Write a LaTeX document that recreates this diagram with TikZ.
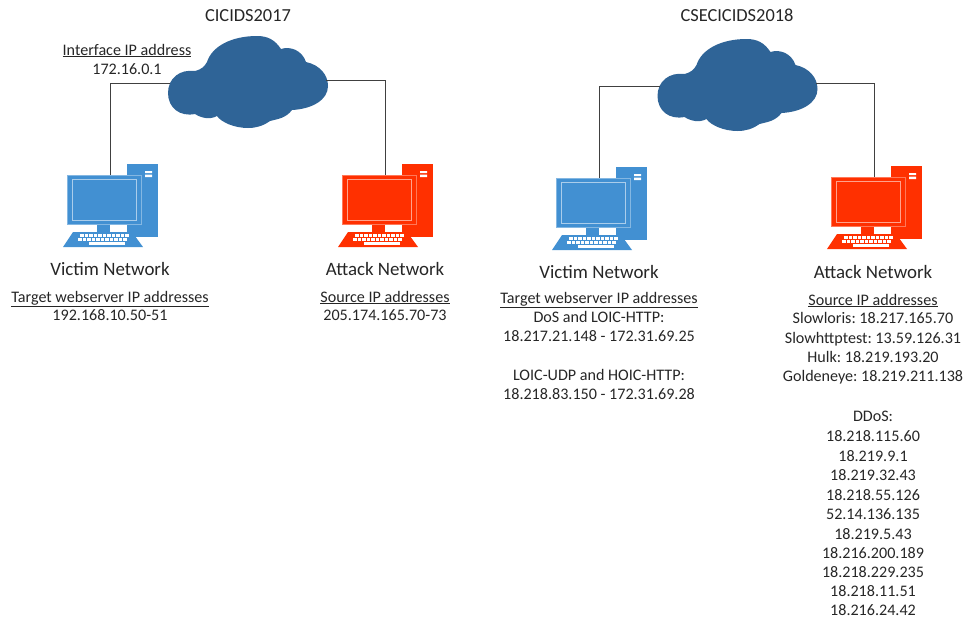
\documentclass[tikz,border=0pt]{standalone}
\usepackage{fontspec}
\setmainfont{Carlito}
\definecolor{victimblue}{HTML}{4290D2}
\definecolor{attackred}{HTML}{FF3000}
\definecolor{cloudblue}{HTML}{2F6497}
\tikzset{
    caption/.style={anchor=base, inner sep=0pt, font=\fontsize{16.1}{18}\selectfont\frenchspacing, text=black!85},
    heading/.style={caption, font=\fontsize{18.9}{20}\selectfont},
    charttitle/.style={caption, font=\fontsize{18.4}{20}\selectfont},
    link/.style={draw=black!75, line width=0.9pt},
    pics/computer/.style={code={
        \fill[#1] (17,-11) rectangle (48,62);
        \fill[white] (35,-4) rectangle (42,-2) (35,-0.5) rectangle (42,2);
        \fill[#1] (-13,49) rectangle (0,58);
        \filldraw[fill=#1, draw=white!35!#1, line width=0.7pt] (-43,0) rectangle (31,49);
        \draw[white!55!#1, line width=0.8pt] (-38,4) rectangle (26,45);
        \fill[#1] (-37,57) -- (22,57) -- (33,72) -- (-47,72) -- cycle;
        % keyboard keys
        \foreach \x in {-30,-25.5,...,17} {
            \fill[white] (\x,59.4) rectangle +(3.6,2.6);
            \fill[white] (\x-2,63) rectangle +(3.6,2.6);
        }
        \fill[white] (-21,67) rectangle (15,69.6);
        \coordinate (-top) at (0,0);
    }},
    pics/cloud/.style={code={
        \fill[cloudblue] (-80,11) .. controls (-80,-4) and (-68,-13) .. (-53,-11)
            .. controls (-46,-13) and (-44,-15) .. (-41,-20)
            .. controls (-36,-36) and (-16,-46) .. (9,-46)
            .. controls (20,-46) and (27,-42) .. (33,-33)
            .. controls (42,-36) and (54,-32) .. (58,-20)
            .. controls (72,-17) and (80,-7) .. (80,4)
            .. controls (80,18) and (64,27) .. (44,28)
            .. controls (38,36) and (30,37) .. (22,39)
            .. controls (15,44) and (8,46) .. (0,46)
            .. controls (-14,46) and (-27,40) .. (-31,34)
            .. controls (-38,38) and (-47,36) .. (-53,32)
            .. controls (-68,35) and (-80,26) .. (-80,11) -- cycle;
        \coordinate (-left) at (-78,1);
        \coordinate (-right) at (78,-2);
    }}
}
\begin{document}
\begin{tikzpicture}[x=1pt, y=-1pt]
    \useasboundingbox (0,0) rectangle (963,619);

    % Clouds and computers
    \pic (cloudA) at (248,82) {cloud};
    \pic (cloudB) at (737.5,85) {cloud};
    \pic (victimA) at (110,175) {computer=victimblue};
    \pic (attackA) at (385,175) {computer=attackred};
    \pic (victimB) at (599,178) {computer=victimblue};
    \pic (attackB) at (874,177) {computer=attackred};

    % Links
    \draw[link] (cloudA-left) -| (victimA-top);
    \draw[link] (cloudA-right) -| (attackA-top);
    \draw[link] (cloudB-left) -| (victimB-top);
    \draw[link] (cloudB-right) -| (attackB-top);

    % CICIDS2017 labels
    \node[charttitle] (titleA) at (248,21) {CICIDS2017};
    \node[caption] (ifaceA) at (127,55) {\underline{Interface IP address}};
    \node[caption] (ifaceipA) at (127,74) {172.16.0.1};
    \node[heading] (victimnameA) at (110,275) {Victim Network};
    \node[heading] (attacknameA) at (385,275) {Attack Network};
    \node[caption] (targetA) at (110,302) {\underline{Target webserver IP addresses}};
    \node[caption] (targetipA) at (110,320) {192.168.10.50-51};
    \node[caption] (sourceA) at (385,302) {\underline{Source IP addresses}};
    \node[caption] (sourceipA) at (385,320) {205.174.165.70-73};

    % CSECICIDS2018 labels
    \node[charttitle] (titleB) at (737,21) {CSECICIDS2018};
    \node[heading] (victimnameB) at (599,278) {Victim Network};
    \node[heading] (attacknameB) at (873,278) {Attack Network};
    \node[caption] (targetB) at (599,303) {\underline{Target webserver IP addresses}};
    \node[caption] (sourceB) at (873,305) {\underline{Source IP addresses}};
    \foreach \y/\txt [count=\i] in {322/DoS and LOIC-HTTP:, 341/18.217.21.148 - 172.31.69.25,
        380/LOIC-UDP and HOIC-HTTP:, 399/18.218.83.150 - 172.31.69.28} {
        \node[caption] (targetlineB\i) at (599,\y) {\txt};
    }
    \foreach \y/\txt [count=\i] in {323/Slowloris: 18.217.165.70, 343/Slowhttptest: 13.59.126.31,
        362/Hulk: 18.219.193.20, 381/Goldeneye: 18.219.211.138, 421/DDoS:,
        441/18.218.115.60, 461/18.219.9.1, 480/18.219.32.43, 500/18.218.55.126,
        519/52.14.136.135, 539/18.219.5.43, 558/18.216.200.189, 577/18.218.229.235,
        596/18.218.11.51, 615/18.216.24.42} {
        \node[caption] (sourcelineB\i) at (873,\y) {\txt};
    }
\end{tikzpicture}
\end{document}
